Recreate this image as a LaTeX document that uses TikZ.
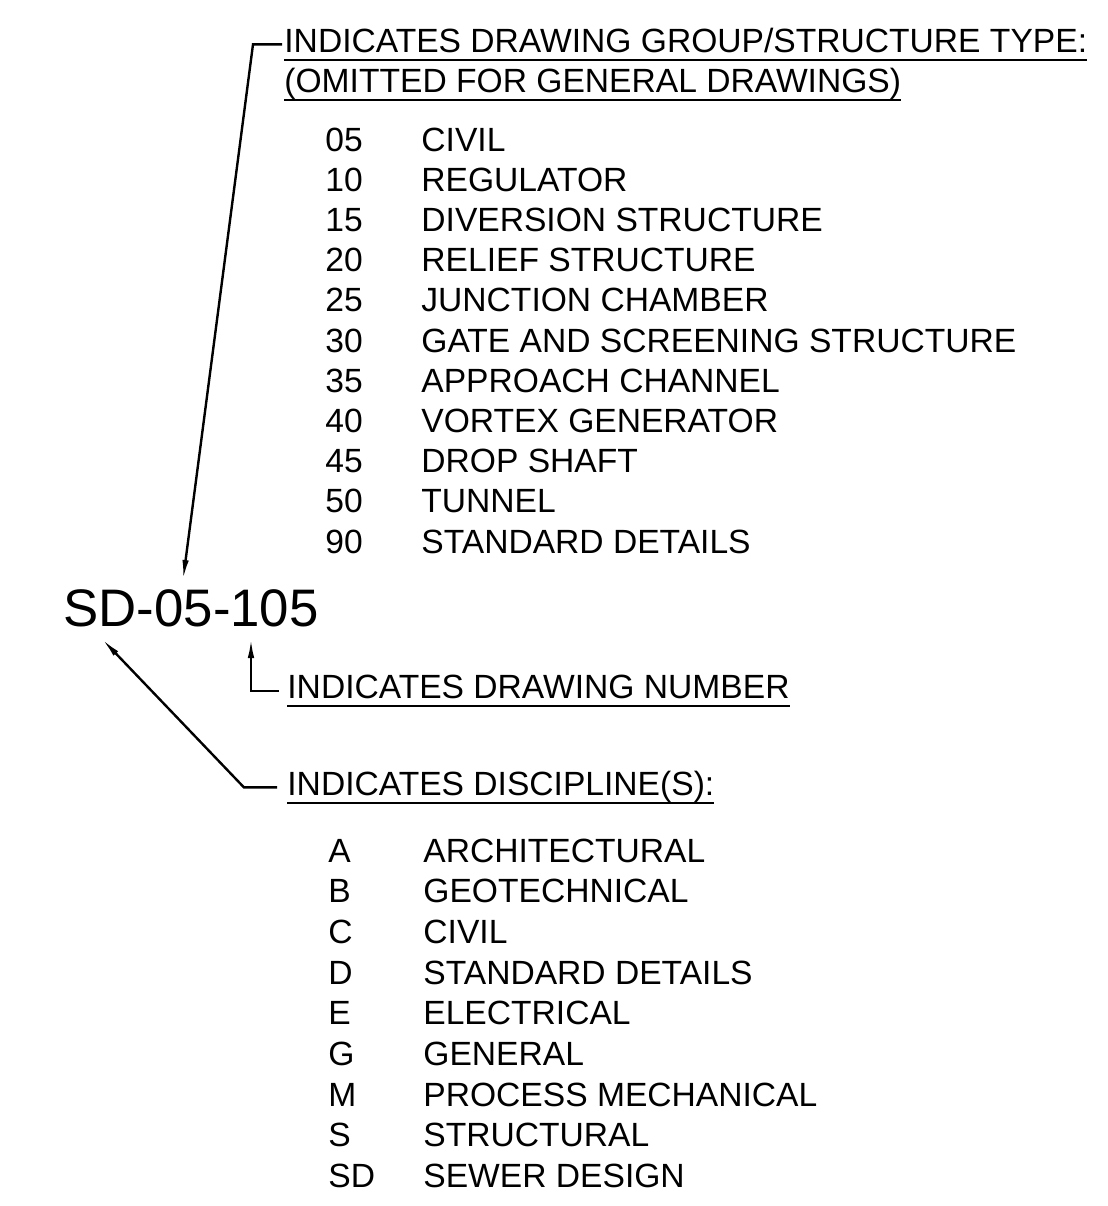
\documentclass[tikz,border=0pt]{standalone}
\usepackage{fontspec}
\setmainfont{Liberation Sans}
\usetikzlibrary{positioning, arrows.meta}

\newcommand{\ulabel}[1]{\setbox0=\hbox{#1}\rlap{\vrule width\wd0 height -3.4pt depth 4.6pt}\box0}

\tikzset{
    item/.style={anchor=base west, inner sep=0pt, font=\fontsize{16.8}{20}\selectfont},
    bigitem/.style={item, font=\fontsize{26.4}{30}\selectfont},
    leader/.style={line width=1.2pt, -{Latex[length=10pt, width=3.2pt]}},
}

\begin{document}
\begin{tikzpicture}[x=0.5pt, y=-0.5pt]
        \useasboundingbox (0,0) rectangle (1108,1206);

        \node[bigitem] (code) at (63,626) {SD-05-105};

        \node[item] (grp) at (284,52) {\ulabel{INDICATES DRAWING GROUP/STRUCTURE TYPE:}};
        \node[item] (grpnote) at (284,92) {\ulabel{(OMITTED FOR GENERAL DRAWINGS)}};
        \foreach \grpno/\grpname [count=\i from 0] in {05/CIVIL, 10/REGULATOR, 15/DIVERSION STRUCTURE,
            20/RELIEF STRUCTURE, 25/JUNCTION CHAMBER, 30/GATE AND SCREENING STRUCTURE,
            35/APPROACH CHANNEL, 40/VORTEX GENERATOR, 45/DROP SHAFT, 50/TUNNEL, 90/STANDARD DETAILS} {
            \node[item] (grpno\i) at (325,{151+40.2*\i}) {\grpno};
            \node[item] (grpname\i) at (421,{151+40.2*\i}) {\grpname};
        }

        \node[item] (num) at (287,698) {\ulabel{INDICATES DRAWING NUMBER}};

        \node[item] (disc) at (287,795) {\ulabel{INDICATES DISCIPLINE(S):}};
        \foreach \discno/\discname [count=\i from 0] in {A/ARCHITECTURAL, B/GEOTECHNICAL, C/CIVIL,
            D/STANDARD DETAILS, E/ELECTRICAL, G/GENERAL, M/PROCESS MECHANICAL, S/STRUCTURAL, SD/SEWER DESIGN} {
            \node[item] (discno\i) at (328,{862+40.7*\i}) {\discno};
            \node[item] (discname\i) at (423,{862+40.7*\i}) {\discname};
        }

        \coordinate (grptip) at (183,580);
        \coordinate (numtip) at (251,638);
        \coordinate (disctip) at (102,639);

        \draw[leader] ([xshift=-1pt]grp.west) -- ++(-29,0) -- (grptip);
        \draw[leader] ([xshift=-4pt]num.west) -| (numtip);
        \draw[leader] ([xshift=-5pt]disc.west) -- ++(-33,0) -- (disctip);

\end{tikzpicture}
\end{document}
